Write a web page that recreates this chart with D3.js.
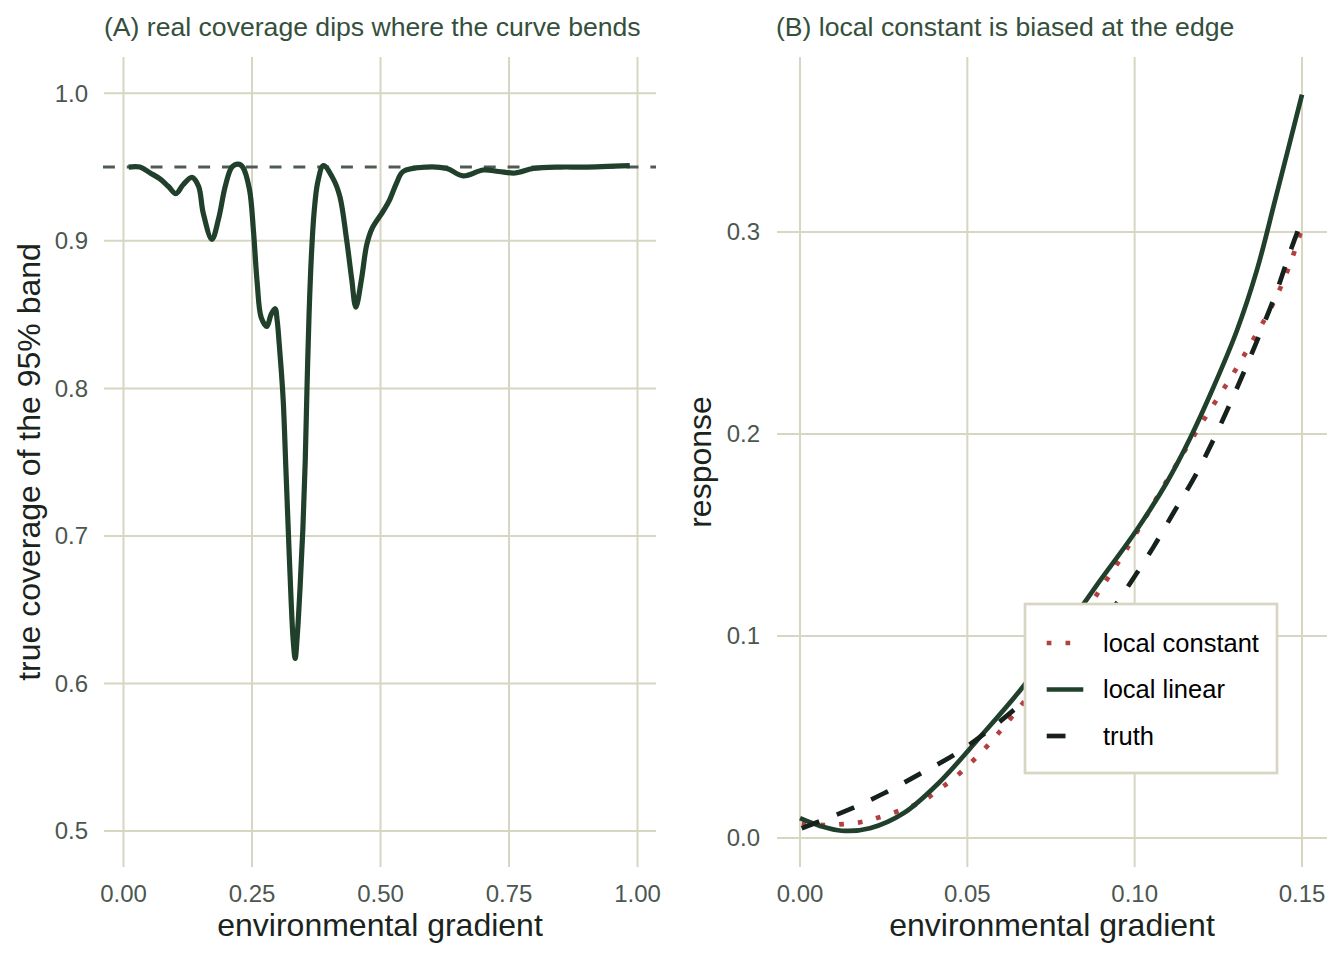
<!DOCTYPE html>
<html>
<head>
<meta charset="utf-8">
<script src="https://d3js.org/d3.v7.min.js"></script>
<style>
body { margin: 0; background: #fff; }
text { font-family: "Liberation Sans", Arial, Helvetica, sans-serif; }
</style>
</head>
<body>
<svg id="chart" width="1344" height="960"></svg>
<script>
// ---- data ----
// panel A: real coverage of the nominal 95% band
var covX = [0.010, 0.032, 0.052, 0.071, 0.087, 0.102, 0.116, 0.133, 0.146, 0.155, 0.172, 0.185, 0.198, 0.211, 0.223, 0.232,
            0.245, 0.253, 0.260, 0.268, 0.279, 0.287, 0.295, 0.299, 0.303, 0.307, 0.311, 0.316, 0.321, 0.326, 0.330, 0.334,
            0.338, 0.3435, 0.349, 0.3535, 0.357, 0.361, 0.366, 0.371, 0.378, 0.389, 0.408, 0.421, 0.434, 0.444, 0.452, 0.463,
            0.473, 0.483, 0.505, 0.518, 0.531, 0.544, 0.590, 0.629, 0.661, 0.700, 0.730, 0.762, 0.797, 0.850, 0.895, 0.985];
var covY = [0.950, 0.950, 0.946, 0.942, 0.937, 0.932, 0.938, 0.943, 0.937, 0.919, 0.901, 0.915, 0.937, 0.950, 0.952, 0.950,
            0.935, 0.906, 0.872, 0.848, 0.842, 0.850, 0.854, 0.846, 0.830, 0.812, 0.790, 0.745, 0.700, 0.657, 0.630, 0.617,
            0.632, 0.665, 0.705, 0.750, 0.800, 0.850, 0.893, 0.920, 0.940, 0.951, 0.942, 0.930, 0.901, 0.874, 0.855, 0.874,
            0.897, 0.908, 0.920, 0.928, 0.939, 0.947, 0.950, 0.949, 0.944, 0.948, 0.947, 0.946, 0.949, 0.950, 0.950, 0.951];
var nominal = 0.95;
var aXTicks = [0, 0.25, 0.5, 0.75, 1];
var aYTicks = [0.5, 0.6, 0.7, 0.8, 0.9, 1.0];

// panel B: fits near the boundary
var constX = [0.0005, 0.007, 0.013, 0.0189, 0.0249, 0.0364, 0.0413, 0.0463, 0.0553, 0.0633, 0.075, 0.0877, 0.0976, 0.110, 0.1195, 0.1295, 0.1355, 0.1415, 0.1464, 0.150];
var constY = [0.0073, 0.0064, 0.0069, 0.0081, 0.0109, 0.0180, 0.0238, 0.0300, 0.0444, 0.0600, 0.085, 0.118, 0.143, 0.178, 0.204, 0.230, 0.247, 0.265, 0.284, 0.302];
var linX = [0.000, 0.006, 0.0125, 0.0209, 0.0309, 0.0413, 0.0538, 0.0667, 0.077, 0.085, 0.0897, 0.1006, 0.1096, 0.1166, 0.1235, 0.1305, 0.1365, 0.142, 0.150];
var linY = [0.0098, 0.0060, 0.0036, 0.0048, 0.0122, 0.0270, 0.0500, 0.0750, 0.0985, 0.1165, 0.1275, 0.1525, 0.176, 0.198, 0.223, 0.251, 0.281, 0.316, 0.368];
var truthX = [0.0005, 0.0144, 0.0254, 0.0361, 0.0468, 0.0568, 0.0657, 0.075, 0.085, 0.092, 0.0986, 0.1056, 0.1116, 0.118, 0.1235, 0.1285, 0.1335, 0.138, 0.1425, 0.1464, 0.150];
var truthY = [0.0048, 0.0139, 0.0224, 0.0320, 0.0419, 0.0538, 0.0658, 0.078, 0.095, 0.110, 0.126, 0.144, 0.161, 0.179, 0.197, 0.215, 0.234, 0.252, 0.271, 0.290, 0.306];
var bXTicks = [0, 0.05, 0.10, 0.15];
var bYTicks = [0, 0.1, 0.2, 0.3];
var seriesNames = ["local constant", "local linear", "truth"];

var green = "#20402b", red = "#b2403f", dark = "#17211b", grid = "#d6d6c3";

var svg = d3.select("#chart");

function zip(xs, ys) { return xs.map(function(x, i) { return [x, ys[i]]; }); }

// draw grid, tick labels and titles for one panel
function panel(p) {
  var g = svg.append("g");
  g.selectAll(".vg").data(p.xTicks).enter().append("line")
    .attr("x1", p.x).attr("x2", p.x).attr("y1", p.top).attr("y2", p.bottom)
    .attr("stroke", grid).attr("stroke-width", 2);
  g.selectAll(".hg").data(p.yTicks).enter().append("line")
    .attr("y1", p.y).attr("y2", p.y).attr("x1", p.left).attr("x2", p.right)
    .attr("stroke", grid).attr("stroke-width", 2);
  g.selectAll(".xl").data(p.xTicks).enter().append("text")
    .attr("x", p.x).attr("y", 902).attr("text-anchor", "middle")
    .attr("font-size", 24).attr("fill", "#4b5750").text(p.xFmt);
  g.selectAll(".yl").data(p.yTicks).enter().append("text")
    .attr("x", p.yLabX).attr("y", p.y).attr("dy", "0.35em").attr("text-anchor", "end")
    .attr("font-size", 24).attr("fill", "#4b5750").text(p.yFmt);
  g.append("text").attr("x", p.titleX).attr("y", 36).attr("font-size", 26.6)
    .attr("fill", "#34503c").text(p.title);
  g.append("text").attr("x", (p.left + p.right) / 2).attr("y", 936).attr("text-anchor", "middle")
    .attr("font-size", 32).attr("fill", "#1a241d").text("environmental gradient");
  g.append("text").attr("transform", "translate(" + p.yTitleX + "," + ((p.top + p.bottom) / 2) + ") rotate(-90)")
    .attr("text-anchor", "middle").attr("font-size", 32).attr("fill", "#1a241d").text(p.yTitle);
  return g;
}

// ---- panel A ----
var xA = d3.scaleLinear().domain([0, 1]).range([123.5, 637.5]);
var yA = d3.scaleLinear().domain([0.5, 1.0]).range([831, 93.3]);
var gA = panel({
  left: 104, right: 656, top: 57, bottom: 867,
  x: xA, y: yA, xTicks: aXTicks, yTicks: aYTicks,
  xFmt: d3.format(".2f"), yFmt: d3.format(".1f"), yLabX: 88,
  title: "(A) real coverage dips where the curve bends", titleX: 104,
  yTitle: "true coverage of the 95% band", yTitleX: 40
});
gA.append("line").attr("x1", 103).attr("x2", 656).attr("y1", yA(nominal)).attr("y2", yA(nominal))
  .attr("stroke", "#4e5a52").attr("stroke-width", 3).attr("stroke-dasharray", "11.9,11.9");
gA.append("path").datum(zip(covX, covY))
  .attr("fill", "none").attr("stroke", green).attr("stroke-width", 5.2).attr("stroke-linejoin", "round")
  .attr("d", d3.line().x(function(d) { return xA(d[0]); }).y(function(d) { return yA(d[1]); }).curve(d3.curveCatmullRom.alpha(0.5)));

// ---- panel B ----
var xB = d3.scaleLinear().domain([0, 0.15]).range([800, 1302]);
var yB = d3.scaleLinear().domain([0, 0.3]).range([838, 232]);
var gB = panel({
  left: 777, right: 1327, top: 57, bottom: 867,
  x: xB, y: yB, xTicks: bXTicks, yTicks: bYTicks,
  xFmt: d3.format(".2f"), yFmt: d3.format(".1f"), yLabX: 760,
  title: "(B) local constant is biased at the edge", titleX: 776,
  yTitle: "response", yTitleX: 711
});
var lineB = d3.line().x(function(d) { return xB(d[0]); }).y(function(d) { return yB(d[1]); }).curve(d3.curveCatmullRom.alpha(0.5));
var styles = [
  { color: red, dash: "4.7,14.1" },
  { color: green, dash: null },
  { color: dark, dash: "18.8,18.8" }
];
var seriesB = [zip(constX, constY), zip(linX, linY), zip(truthX, truthY)];
gB.selectAll(".series").data(seriesB).enter().append("path")
  .attr("fill", "none").attr("stroke-width", 4.7)
  .attr("stroke", function(d, i) { return styles[i].color; })
  .attr("stroke-dasharray", function(d, i) { return styles[i].dash; })
  .attr("d", lineB);

// legend
var leg = svg.append("g");
leg.append("rect").attr("x", 1025).attr("y", 604).attr("width", 252).attr("height", 169)
  .attr("fill", "#fff").attr("stroke", grid).attr("stroke-width", 2.7);
var items = leg.selectAll(".item").data(seriesNames).enter().append("g")
  .attr("transform", function(d, i) { return "translate(0," + (643 + i * 46.5) + ")"; });
items.append("line").attr("x1", 1046.7).attr("x2", 1083.3)
  .attr("stroke-width", 4.7)
  .attr("stroke", function(d, i) { return styles[i].color; })
  .attr("stroke-dasharray", function(d, i) { return styles[i].dash; });
items.append("text").attr("x", 1103).attr("dy", "0.35em").attr("font-size", 25.5)
  .attr("fill", "#000").text(function(d) { return d; });
</script>
</body>
</html>
